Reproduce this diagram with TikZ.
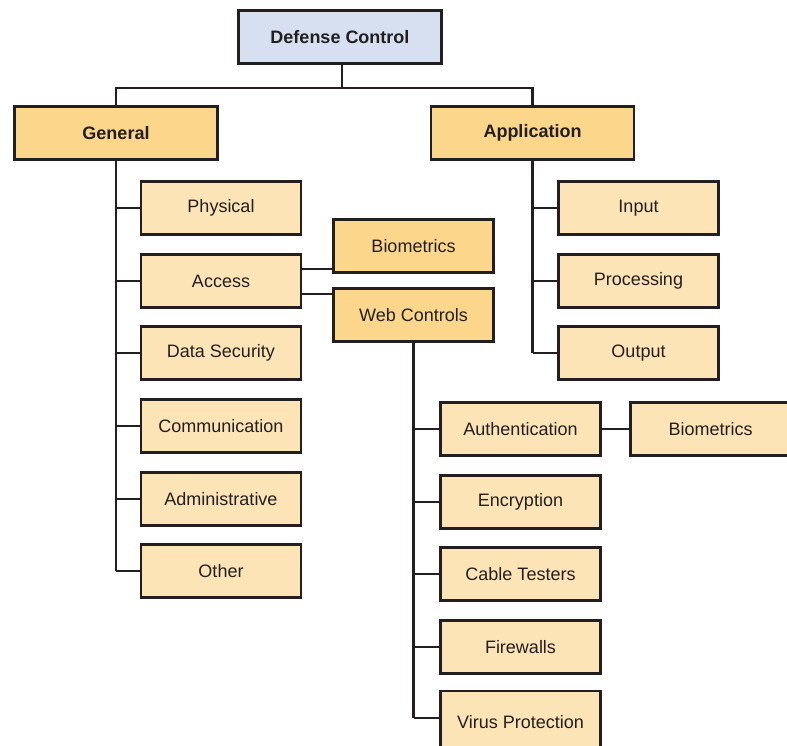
\documentclass[tikz,border=0pt]{standalone}
\usepackage{fontspec}
\setmainfont{Liberation Sans}
\definecolor{rootfill}{HTML}{D6E0F1}
\definecolor{midfill}{HTML}{FCD68B}
\definecolor{leaffill}{HTML}{FDE4B6}
\definecolor{ink}{HTML}{231F20}
\tikzset{
  box/.style={draw=ink, line width=2.6pt, minimum height=53pt, inner sep=0pt, font=\fontsize{18}{20}\selectfont, text=ink},
  rootbox/.style={box, fill=rootfill, minimum width=203pt, font=\fontsize{18}{20}\selectfont\bfseries},
  headbox/.style={box, fill=midfill, minimum width=203pt, font=\fontsize{18}{20}\selectfont\bfseries},
  midbox/.style={box, fill=midfill, minimum width=160pt},
  leafbox/.style={box, fill=leaffill, minimum width=160pt},
  conn/.style={draw=ink, line width=2.6pt},
}
\begin{document}
\begin{tikzpicture}[x=1pt,y=-1pt]
\clip (0,0) rectangle (787,746);
\fill[white] (0,0) rectangle (787,746);
% nodes
\node[rootbox] (dc) at (340,37) {Defense Control};
\node[headbox] (gen) at (116,133) {General};
\node[headbox] (app) at (532.5,133) {Application};
\node[leafbox] (phys) at (221,208) {Physical};
\node[leafbox] (acc) at (221,281) {Access};
\node[leafbox] (dsec) at (221,353) {Data Security};
\node[leafbox] (comm) at (221,426) {Communication};
\node[leafbox] (adm) at (221,499) {Administrative};
\node[leafbox] (oth) at (221,571) {Other};
\node[midbox] (bio) at (413.5,246) {Biometrics};
\node[midbox] (web) at (413.5,315) {Web Controls};
\node[leafbox] (inp) at (638.5,208) {Input};
\node[leafbox] (proc) at (638.5,281) {Processing};
\node[leafbox] (outp) at (638.5,353) {Output};
\node[leafbox] (auth) at (520.5,429) {Authentication};
\node[leafbox] (bio2) at (710.5,429) {Biometrics};
\node[leafbox] (enc) at (520.5,502) {Encryption};
\node[leafbox] (cab) at (520.5,574) {Cable Testers};
\node[leafbox] (fire) at (520.5,647) {Firewalls};
\node[leafbox, minimum height=62pt] (vir) at (520.5,722) {Virus Protection};
\coordinate (bus) at (342,88);
% connectors
\draw[conn] (dc.south -| bus) -- (bus);
\draw[conn] (gen.north) |- (bus) -| (app.north);
\draw[conn] (gen.south) -- (gen.south |- oth.west);
\foreach \c in {phys,acc,dsec,comm,adm,oth} \draw[conn] (gen.south |- \c.west) -- (\c.west);
\draw[conn] (app.south) -- (app.south |- outp.west);
\foreach \c in {inp,proc,outp} \draw[conn] (app.south |- \c.west) -- (\c.west);
\draw[conn] ([yshift=-13pt]acc.east) -- ([yshift=-13pt]acc.east -| bio.west);
\draw[conn] ([yshift=12pt]acc.east) -- ([yshift=12pt]acc.east -| web.west);
\draw[conn] (web.south) -- (web.south |- 0,718);
\foreach \c in {auth,enc,cab,fire} \draw[conn] (web.south |- \c.west) -- (\c.west);
\draw[conn] (web.south |- 0,718) -- (vir.west |- 0,718);
\draw[conn] (auth.east) -- (bio2.west);
\end{tikzpicture}
\end{document}
